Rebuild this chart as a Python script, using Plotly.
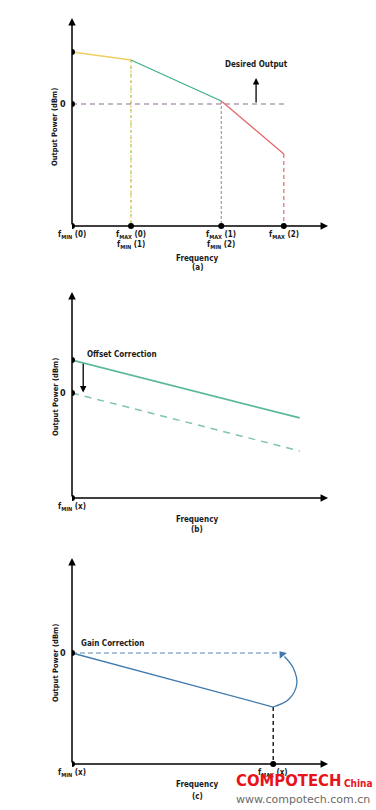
import plotly.graph_objects as go

W, H = 376, 810
PX_PER_F = 59.0

# ---------------- data ----------------
# Panel (a): piecewise output power across three bands
A_FREQ = [0.0, 1.0, 2.53, 3.59]          # fMIN(0), fMAX(0)/fMIN(1), fMAX(1)/fMIN(2), fMAX(2)
A_POWER = [5.0, 4.23, 0.29, -4.8]        # dBm (relative)
A_BASE = -11.73
A_TOP = 8.27
A_XEND = 4.34
A_ZERO_END = 3.64
A_DESIRED_X = 3.12
A_DESIRED_TOP = 2.5
A_TICK_TOP = ["f<sub>MIN</sub> (0)", "f<sub>MAX</sub> (0)", "f<sub>MAX</sub> (1)", "f<sub>MAX</sub> (2)"]
A_TICK_BOTTOM = ["", "f<sub>MIN</sub> (1)", "f<sub>MIN</sub> (2)", ""]

# Panel (b): offset correction
B_FREQ = [0.0, 3.86]
B_MEASURED = [3.0, -2.27]
B_CORRECTED = [0.0, -5.27]
B_BASE = -9.55
B_TOP = 9.18
B_ARROW_X = 0.19
B_ARROW_FROM = 2.8

# Panel (c): gain correction
C_FREQ = [0.0, 3.41]
C_MEASURED = [0.0, -4.91]
C_TARGET_FREQ = [0.0, 3.51]
C_TARGET = [0.0, 0.0]
C_CURVE_F = [3.41, 3.68, 3.81, 3.75, 3.60]
C_CURVE_P = [-4.91, -4.18, -2.82, -1.36, -0.32]
C_HEAD_F = [3.56]
C_HEAD_P = [-0.12]
C_BASE = -10.09
C_TOP = 8.64

# ---------------- layout helpers ----------------
X0, X1 = 72, 336
def py(p):
    return 1 - p / H
def pxx(p):
    return p / W

YELLOW = "#f0cf60"
GREEN = "#3fae8e"
RED = "#e46a6a"
PURPLE = "#8e6a90"
BLUE = "#3f79ae"
LBLUE = "#8fb0cc"
FONT = "DejaVu Sans Condensed, Liberation Sans Narrow, Liberation Sans, sans-serif"
FS = 8

fig = go.Figure()

def line(x, y, color, axis, dash=None, width=1.3, shape="linear"):
    xa, ya = axis
    fig.add_trace(go.Scatter(x=x, y=y, mode="lines", xaxis=xa, yaxis=ya,
                             line=dict(color=color, width=width, dash=dash, shape=shape),
                             hoverinfo="skip", showlegend=False))

def dots(x, y, axis):
    xa, ya = axis
    fig.add_trace(go.Scatter(x=x, y=y, mode="markers", xaxis=xa, yaxis=ya,
                             marker=dict(color="black", size=6),
                             hoverinfo="skip", showlegend=False))

annots = []
def arrow(axis, x, y, ax, ay, color="black", width=1.5, head=2, size=1.0):
    xa, ya = axis
    annots.append(dict(xref=xa, yref=ya, axref=xa, ayref=ya, x=x, y=y, ax=ax, ay=ay,
                       text="", showarrow=True, arrowhead=head, arrowsize=size,
                       arrowwidth=width, arrowcolor=color))

def text(t, x, y, size=FS, xanchor="center", yanchor="middle", angle=0, color="#1a1a1a",
         family=FONT, xref="paper", yref="paper"):
    annots.append(dict(xref=xref, yref=yref, x=x, y=y, text=t, showarrow=False,
                       xanchor=xanchor, yanchor=yanchor, textangle=angle,
                       font=dict(size=size, color=color, family=family)))

# ---------------- panel (a) ----------------
axA = ("x", "y")
line([A_FREQ[1]] * 2, [A_POWER[1], A_BASE], YELLOW, axA, dash="3px,2px", width=1.2)
line([A_FREQ[1]] * 2, [A_POWER[1], A_BASE], "#9cc86a", axA, dash="2px,5px", width=1.2)
line([A_FREQ[2]] * 2, [A_POWER[2], A_BASE], "#8aa89a", axA, dash="3px,2px", width=1.2)
line([A_FREQ[3]] * 2, [A_POWER[3], A_BASE], RED, axA, dash="4px,3px", width=1.2)
line([0, A_ZERO_END], [0, 0], PURPLE, axA, dash="5px,4px", width=1.2)
line(A_FREQ[0:2], A_POWER[0:2], YELLOW, axA)
line(A_FREQ[1:3], A_POWER[1:3], GREEN, axA)
line(A_FREQ[2:4], A_POWER[2:4], RED, axA)
dots([0, 0] + A_FREQ, [A_POWER[0], 0] + [A_BASE] * 4, axA)
arrow(axA, 0, A_TOP, 0, A_BASE)
arrow(axA, A_XEND, A_BASE, 0, A_BASE)
arrow(axA, A_DESIRED_X, A_DESIRED_TOP, A_DESIRED_X, 0, width=1.3)
for f, lab in zip(A_FREQ, A_TICK_TOP):
    text("<b>" + lab + "</b>", f, A_BASE, yanchor="middle", xref="x", yref="y")
    annots[-1]["yshift"] = -9
for f, lab in zip(A_FREQ, A_TICK_BOTTOM):
    if lab:
        text("<b>" + lab + "</b>", f, A_BASE, yanchor="middle", xref="x", yref="y")
        annots[-1]["yshift"] = -19
text("<b>Desired Output</b>", A_DESIRED_X, A_DESIRED_TOP + 0.7, yanchor="bottom",
     xref="x", yref="y")
text("<b>0</b>", pxx(68), py(104), size=9, xanchor="right")
text("<b>Output Power (dBm)</b>", pxx(55), py(127), size=7.5, angle=-90)
text("<b>Frequency</b>", pxx(197), py(258), size=8)
text("<b>(a)</b>", pxx(197), py(268), size=8)

# ---------------- panel (b) ----------------
axB = ("x2", "y2")
line(B_FREQ, B_CORRECTED, "#7fc4ae", axB, dash="7px,6px", width=1.5)
line(B_FREQ, B_MEASURED, "#5cb89c", axB, width=1.8)
dots([0, 0, 0], [B_MEASURED[0], 0, B_BASE], axB)
arrow(axB, 0, B_TOP, 0, B_BASE)
arrow(axB, A_XEND, B_BASE, 0, B_BASE)
arrow(axB, B_ARROW_X, 0.05, B_ARROW_X, B_ARROW_FROM, width=1.3)
text("<b>Offset Correction</b>", pxx(85), py(355), xanchor="left")
text("<b>0</b>", pxx(68), py(393), size=9, xanchor="right")
text("<b>Output Power (dBm)</b>", pxx(55), py(397), size=7.5, angle=-90)
text("<b>f<sub>MIN</sub> (x)</b>", 0, B_BASE, yanchor="middle", xref="x2", yref="y2")
annots[-1]["yshift"] = -9
text("<b>Frequency</b>", pxx(197), py(519), size=8)
text("<b>(b)</b>", pxx(197), py(529), size=8)

# ---------------- panel (c) ----------------
axC = ("x3", "y3")
line(C_TARGET_FREQ, C_TARGET, LBLUE, axC, dash="5px,3px", width=1.5)
line([C_FREQ[1]] * 2, [C_MEASURED[1], C_BASE], "black", axC, dash="4px,3px", width=1.3)
line(C_FREQ, C_MEASURED, BLUE, axC, width=1.3)
line(C_CURVE_F, C_CURVE_P, BLUE, axC, width=1.3, shape="spline")
fig.add_trace(go.Scatter(x=C_HEAD_F, y=C_HEAD_P, mode="markers", xaxis="x3", yaxis="y3",
                         marker=dict(symbol="triangle-up", size=8, angle=-40, color=BLUE),
                         hoverinfo="skip", showlegend=False))
dots([0, 0, C_FREQ[1]], [0, C_BASE, C_BASE], axC)
arrow(axC, 0, C_TOP, 0, C_BASE)
arrow(axC, A_XEND, C_BASE, 0, C_BASE)
text("<b>Gain Correction</b>", pxx(79), py(643), xanchor="left")
text("<b>0</b>", pxx(68), py(653), size=9, xanchor="right")
text("<b>Output Power (dBm)</b>", pxx(55), py(663), size=7.5, angle=-90)
text("<b>f<sub>MIN</sub> (x)</b>", 0, C_BASE, yanchor="middle", xref="x3", yref="y3")
annots[-1]["yshift"] = -9
text("<b>f<sub>MAX</sub> (x)</b>", C_FREQ[1], C_BASE, yanchor="middle", xref="x3", yref="y3")
annots[-1]["yshift"] = -9
text("<b>Frequency</b>", pxx(197), py(784), size=8)
text("<b>(c)</b>", pxx(197), py(796), size=8)

# watermark
text("<b>COMPOTECH</b>", pxx(234), py(780), size=16.5, xanchor="left", color="#e8141c")
text("<b>China</b>", pxx(342), py(783), size=10, xanchor="left", color="#e8141c")
text("www.compotech.com.cn", pxx(303), py(799), size=11, color="#6a6a6a",
     family="DejaVu Sans, sans-serif")

def xa(dom):
    return dict(domain=dom, range=[0, (X1 - X0) / PX_PER_F], visible=False, fixedrange=True)

def ya(top_px, bot_px, zero_px, scale):
    return dict(domain=[py(bot_px), py(top_px)],
                range=[-(bot_px - zero_px) / scale, (zero_px - top_px) / scale],
                visible=False, fixedrange=True)

xdom = [pxx(X0), pxx(X1)]
fig.update_layout(
    width=W, height=H, margin=dict(l=0, r=0, t=0, b=0),
    paper_bgcolor="white", plot_bgcolor="white", showlegend=False,
    xaxis=dict(xa(xdom), anchor="y"),
    yaxis=dict(ya(14, 230, 104, 10.4), anchor="x"),
    xaxis2=dict(xa(xdom), anchor="y2"),
    yaxis2=dict(ya(288, 502, 393, 11.0), anchor="x2"),
    xaxis3=dict(xa(xdom), anchor="y3"),
    yaxis3=dict(ya(548, 768, 653, 11.0), anchor="x3"),
    annotations=annots,
)

fig.write_html("out.html", config={"displayModeBar": False},
               post_script="document.body.style.margin='0';document.body.style.overflow='hidden';")
